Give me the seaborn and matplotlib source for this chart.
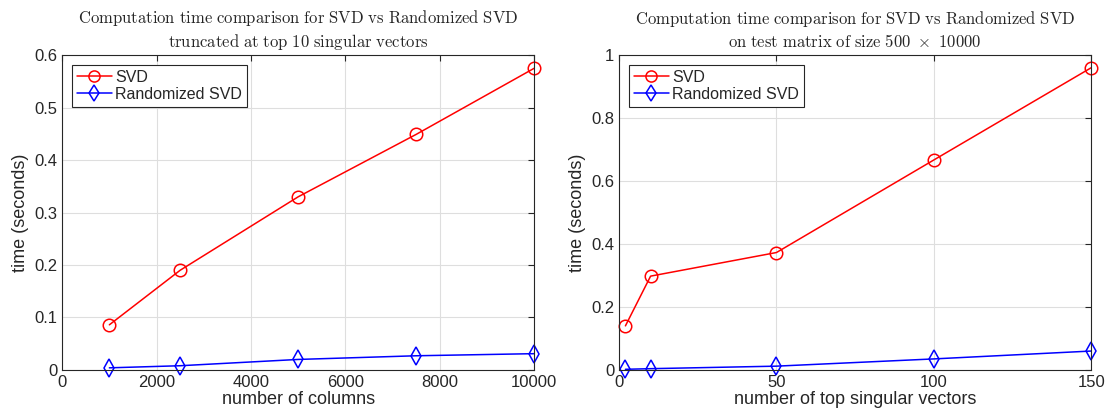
import numpy as np
import pandas as pd
import matplotlib
matplotlib.use("Agg")
import matplotlib.pyplot as plt
from matplotlib.lines import Line2D
import seaborn as sns

# left panel: vary number of columns
cols = [1000, 2500, 5000, 7500, 10000]
svd_cols = [0.086, 0.190, 0.330, 0.449, 0.575]
rsvd_cols = [0.004, 0.008, 0.020, 0.027, 0.031]

# right panel: vary number of top singular vectors
topk = [2, 10, 50, 100, 150]
svd_k = [0.140, 0.298, 0.373, 0.667, 0.960]
rsvd_k = [0.002, 0.004, 0.012, 0.035, 0.060]

sns.set_style("white")
plt.rcParams["font.family"] = ["Liberation Sans", "DejaVu Sans"]
plt.rcParams["mathtext.fontset"] = "cm"

fig, axes = plt.subplots(1, 2, figsize=(11.1, 4.18), dpi=100)
fig.subplots_adjust(left=0.056, right=0.983, top=0.868, bottom=0.115, wspace=0.18)

def panel(ax, x, svd, rsvd, xlabel, title, xlim, xticks, ylim, yticks):
    df = pd.DataFrame({"x": list(x) * 2,
                       "t": list(svd) + list(rsvd),
                       "m": ["SVD"] * len(x) + ["Randomized SVD"] * len(x)})
    sns.lineplot(data=df, x="x", y="t", hue="m", style="m",
                 palette={"SVD": "red", "Randomized SVD": "blue"},
                 markers={"SVD": "o", "Randomized SVD": "d"},
                 dashes=False, markersize=9, markeredgewidth=1.1,
                 linewidth=1.1, legend=False, ax=ax)
    for line, c in zip(ax.lines, ["red", "blue"]):
        line.set_markeredgecolor(c)
        line.set_markerfacecolor("none")
        line.set_clip_on(False)
    ax.set_xlim(*xlim)
    ax.set_ylim(*ylim)
    ax.set_xticks(xticks)
    ax.set_yticks(yticks)
    ax.set_xlabel(xlabel, fontsize=13, color="0.15", labelpad=1)
    ax.set_ylabel("time (seconds)", fontsize=13, color="0.15", labelpad=4)
    ax.set_title(title, fontsize=12, linespacing=1.25, pad=6)
    ax.grid(True, color="0.87", linewidth=0.8)
    ax.tick_params(direction="in", top=True, right=True, labelsize=12,
                   colors="0.15", length=4)
    for s in ax.spines.values():
        s.set_color("0.15")
        s.set_linewidth(0.8)
    handles = [Line2D([], [], color="red", marker="o", markersize=8,
                      markerfacecolor="none", markeredgewidth=1.1, linewidth=1.1),
               Line2D([], [], color="blue", marker="d", markersize=8,
                      markerfacecolor="none", markeredgewidth=1.1, linewidth=1.1)]
    leg = ax.legend(handles, ["SVD", "Randomized SVD"], loc="upper left",
                    fontsize=11.5, frameon=True, fancybox=False,
                    edgecolor="0.15", framealpha=1, borderaxespad=0.6,
                    handlelength=2.2, handletextpad=0.2, borderpad=0.3,
                    labelspacing=0.15)
    leg.get_frame().set_linewidth(0.8)

panel(axes[0], cols, svd_cols, rsvd_cols, "number of columns",
      r"$\mathrm{Computation\ time\ comparison\ for\ SVD\ vs\ Randomized\ SVD}$" "\n"
      r"$\mathrm{truncated\ at\ top\ 10\ singular\ vectors}$",
      (0, 10000), [0, 2000, 4000, 6000, 8000, 10000],
      (0, 0.6), [0, 0.1, 0.2, 0.3, 0.4, 0.5, 0.6])
axes[0].set_yticklabels(["0", "0.1", "0.2", "0.3", "0.4", "0.5", "0.6"])

panel(axes[1], topk, svd_k, rsvd_k, "number of top singular vectors",
      r"$\mathrm{Computation\ time\ comparison\ for\ SVD\ vs\ Randomized\ SVD}$" "\n"
      r"$\mathrm{on\ test\ matrix\ of\ size\ 500}\ \times\ \mathrm{10000}$",
      (0, 150), [0, 50, 100, 150],
      (0, 1), [0, 0.2, 0.4, 0.6, 0.8, 1])
axes[1].set_yticklabels(["0", "0.2", "0.4", "0.6", "0.8", "1"])

fig.savefig("out.png", dpi=100)
